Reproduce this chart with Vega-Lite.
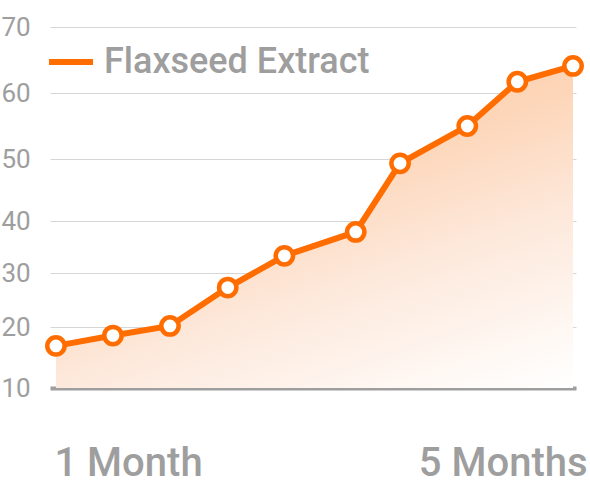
{
  "$schema": "https://vega.github.io/schema/vega-lite/v6.json",
  "width": 526,
  "height": 361,
  "autosize": "none",
  "padding": {"left": 50, "top": 27, "right": 14, "bottom": 98},
  "background": "white",
  "config": {
    "view": {"stroke": null},
    "font": "Roboto",
    "axis": {"labelFont": "Roboto"},
    "legend": {"labelFont": "Roboto"}
  },
  "data": {
    "values": [
      {"month": 1.0, "value": 16.9, "series": "Flaxseed Extract"},
      {"month": 1.441, "value": 18.6, "series": "Flaxseed Extract"},
      {"month": 1.882, "value": 20.2, "series": "Flaxseed Extract"},
      {"month": 2.329, "value": 27.3, "series": "Flaxseed Extract"},
      {"month": 2.767, "value": 33.3, "series": "Flaxseed Extract"},
      {"month": 3.319, "value": 37.9, "series": "Flaxseed Extract"},
      {"month": 3.662, "value": 49.3, "series": "Flaxseed Extract"},
      {"month": 4.182, "value": 55.0, "series": "Flaxseed Extract"},
      {"month": 4.569, "value": 61.7, "series": "Flaxseed Extract"},
      {"month": 5.0, "value": 64.1, "series": "Flaxseed Extract"}
    ]
  },
  "encoding": {
    "x": {
      "field": "month",
      "type": "quantitative",
      "scale": {"domain": [0.954, 5.023], "nice": false, "zero": false},
      "axis": {
        "values": [1, 5],
        "labelExpr": "datum.value == 1 ? '1 Month' : '5 Months'",
        "grid": false,
        "ticks": false,
        "tickSize": 0,
        "domainColor": "#9e9e9e",
        "domainWidth": 4,
        "labelFontSize": 40,
        "labelFontWeight": 500,
        "labelColor": "#9e9e9e",
        "labelAlign": {"condition": {"test": "datum.value == 1", "value": "left"}, "value": "right"},
        "labelOffset": {"condition": {"test": "datum.value == 1", "value": -2}, "value": 14},
        "labelBaseline": "alphabetic",
        "labelPadding": 87,
        "labelFlush": false,
        "labelOverlap": false,
        "labelBound": false,
        "title": null
      }
    },
    "y": {
      "field": "value",
      "type": "quantitative",
      "scale": {
        "type": "linear",
        "domain": [10, 20, 30, 40, 50, 60, 70],
        "range": [361, 300, 246, 194, 132, 66, 0],
        "zero": false,
        "nice": false
      },
      "axis": {
        "values": [10, 20, 30, 40, 50, 60, 70],
        "grid": true,
        "gridColor": "#d6d6d6",
        "gridWidth": 1,
        "ticks": false,
        "tickSize": 0,
        "domain": false,
        "labelAlign": "left",
        "labelBaseline": "middle",
        "labelPadding": 49,
        "labelFontSize": 26,
        "labelColor": "#9e9e9e",
        "labelFlush": false,
        "labelOverlap": false,
        "labelBound": false,
        "title": null
      }
    }
  },
  "layer": [
    {
      "mark": {
        "type": "area",
        "color": {
          "gradient": "linear",
          "x1": 0, "y1": 0, "x2": 0.64, "y2": 1.19,
          "stops": [
            {"offset": 0, "color": "#fbc19c"},
            {"offset": 0.4, "color": "#fdd6b9"},
            {"offset": 0.65, "color": "#fde9dc"},
            {"offset": 1, "color": "#ffffff"}
          ]
        }
      },
      "encoding": {"y2": {"datum": 10}}
    },
    {
      "mark": {"type": "line", "strokeWidth": 6},
      "encoding": {
        "color": {
          "field": "series",
          "type": "nominal",
          "scale": {"range": ["#ff6d00"]},
          "legend": {
            "orient": "none",
            "legendX": -4,
            "legendY": 10,
            "title": null,
            "symbolType": "stroke",
            "symbolSize": 1936,
            "symbolStrokeWidth": 6,
            "labelFontSize": 36,
            "labelFontWeight": 500,
            "labelColor": "#9e9e9e",
            "labelOffset": 8,
            "labelLimit": 400,
            "padding": 0
          }
        }
      }
    },
    {
      "mark": {
        "type": "point",
        "shape": "circle",
        "filled": true,
        "fill": "white",
        "stroke": "#ff6d00",
        "strokeWidth": 4.5,
        "size": 300,
        "opacity": 1
      }
    }
  ]
}
